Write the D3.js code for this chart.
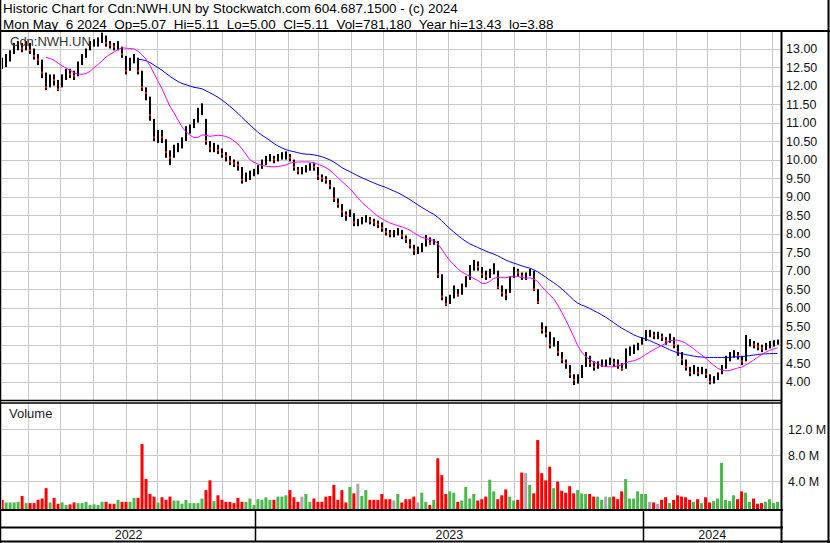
<!DOCTYPE html>
<html><head><meta charset="utf-8">
<script src="https://cdn.jsdelivr.net/npm/d3@7"></script>
<style>
body{margin:0;background:#fff}
svg{display:block;font-family:"Liberation Sans",Arial,sans-serif}
.t{font-size:13.45px;white-space:pre}
</style>
</head><body>
<svg id="c" width="830" height="543"></svg>
<script>
// ---- data (~every 3.8 calendar days) ----
const closes=[12.55,12.7,12.85,13.05,13.1,13.0,13.1,12.95,12.8,12.7,
12.35,11.95,12.2,12.15,11.9,12.2,12.35,12.3,12.25,12.55,
12.75,12.9,13.1,13.15,13.2,13.35,13.15,13.1,13.05,13.1,
12.85,12.4,12.65,12.75,12.4,11.95,11.8,11.2,10.6,10.65,
10.6,10.2,10.05,10.3,10.35,10.5,10.8,10.85,11.0,11.3,
11.4,10.5,10.3,10.35,10.25,10.15,10.1,9.95,9.9,9.85,
9.45,9.55,9.6,9.65,9.75,9.9,10.0,10.05,10.0,10.05,
10.1,10.15,10.05,9.8,9.7,9.7,9.75,9.85,9.8,9.55,
9.5,9.45,9.3,8.95,8.8,8.6,8.5,8.55,8.3,8.3,
8.35,8.4,8.35,8.3,8.25,8.15,8.05,8.0,8.0,8.1,
7.95,7.85,7.7,7.55,7.55,7.65,7.9,7.75,7.8,6.9,
6.3,6.1,6.25,6.5,6.35,6.55,6.75,7.05,7.15,7.1,
6.9,6.85,6.95,7.1,6.55,6.4,6.35,6.8,7.0,6.95,
6.85,6.85,7.0,6.5,6.15,5.4,5.3,5.0,5.1,4.8,
4.6,4.5,4.2,4.05,4.1,4.4,4.7,4.5,4.4,4.45,
4.5,4.5,4.55,4.5,4.45,4.35,4.8,4.85,4.9,5.0,
5.1,5.3,5.3,5.25,5.25,5.2,5.1,5.2,5.0,4.8,
4.6,4.4,4.25,4.35,4.25,4.3,4.2,4.0,4.05,4.2,
4.35,4.6,4.7,4.75,4.7,4.55,5.0,5.05,5.0,4.95,
4.9,4.95,5.0,5.05,5.11];
const highs=[12.75,12.85,12.95,13.15,13.2,13.15,13.2,13.15,13.0,12.85,
12.7,12.35,12.3,12.3,12.15,12.3,12.45,12.45,12.4,12.65,
12.85,13.0,13.2,13.25,13.3,13.43,13.35,13.2,13.15,13.2,
13.05,12.8,12.75,12.85,12.75,12.4,11.95,11.7,11.1,10.8,
10.8,10.55,10.25,10.4,10.45,10.6,10.9,10.95,11.1,11.4,
11.52,11.1,10.5,10.45,10.4,10.3,10.2,10.1,10.0,9.95,
9.8,9.65,9.7,9.75,9.85,10.0,10.1,10.15,10.1,10.15,
10.2,10.22,10.15,10.0,9.8,9.8,9.85,9.9,9.9,9.8,
9.6,9.55,9.45,9.25,8.95,8.8,8.6,8.65,8.55,8.4,
8.45,8.5,8.45,8.4,8.35,8.3,8.15,8.1,8.1,8.15,
8.1,7.95,7.85,7.7,7.65,7.75,7.96,7.9,7.85,7.8,
6.9,6.3,6.35,6.6,6.5,6.65,6.85,7.15,7.29,7.25,
7.1,7.0,7.05,7.2,7.0,6.6,6.5,6.85,7.1,7.05,
6.95,6.95,7.05,7.0,6.5,5.6,5.5,5.35,5.2,5.1,
4.8,4.6,4.45,4.2,4.2,4.45,4.8,4.7,4.55,4.55,
4.6,4.6,4.65,4.62,4.6,4.5,4.9,4.95,5.0,5.05,
5.2,5.4,5.4,5.35,5.35,5.3,5.2,5.3,5.2,5.0,
4.8,4.6,4.4,4.45,4.4,4.4,4.35,4.2,4.15,4.25,
4.45,4.7,4.8,4.85,4.8,4.7,5.26,5.15,5.1,5.05,
5.0,5.05,5.1,5.12,5.11];
const lows=[12.45,12.5,12.65,12.85,12.95,12.9,12.95,12.85,12.7,12.55,
12.2,11.88,11.95,12.0,11.85,11.95,12.15,12.2,12.15,12.25,
12.55,12.75,12.95,13.05,13.05,13.15,13.05,13.0,12.95,12.95,
12.75,12.3,12.4,12.6,12.3,11.85,11.6,11.05,10.5,10.45,
10.45,10.05,9.85,10.05,10.2,10.3,10.5,10.7,10.85,11.0,
11.2,10.4,10.2,10.2,10.15,10.05,9.95,9.85,9.8,9.7,
9.35,9.4,9.45,9.55,9.6,9.75,9.85,9.95,9.9,9.95,
10.0,10.0,9.95,9.7,9.6,9.6,9.65,9.7,9.7,9.45,
9.4,9.35,9.2,8.85,8.7,8.45,8.35,8.45,8.2,8.2,
8.25,8.3,8.25,8.2,8.15,8.05,7.95,7.9,7.9,7.95,
7.85,7.75,7.6,7.42,7.45,7.5,7.65,7.7,7.7,6.8,
6.2,6.05,6.1,6.25,6.3,6.35,6.55,6.75,7.0,7.0,
6.8,6.75,6.8,6.9,6.5,6.3,6.2,6.4,6.8,6.85,
6.75,6.75,6.85,6.45,6.1,5.3,5.2,4.9,4.95,4.7,
4.5,4.35,4.1,3.91,3.95,4.1,4.4,4.4,4.3,4.35,
4.4,4.4,4.45,4.4,4.35,4.3,4.35,4.7,4.75,4.85,
5.0,5.1,5.2,5.15,5.15,5.1,5.0,5.05,4.9,4.7,
4.45,4.3,4.15,4.2,4.15,4.2,4.1,3.93,3.95,4.05,
4.2,4.35,4.55,4.65,4.6,4.45,4.55,4.95,4.9,4.85,
4.8,4.85,4.9,4.95,5.0];
// volume in millions of units
const volumes=[1.1,0.7,0.7,0.7,0.8,1.7,0.6,0.6,0.6,1.1,
1.3,2.9,0.7,1.4,0.5,0.7,0.3,0.4,0.7,0.6,
0.6,0.8,0.3,0.4,0.3,0.8,0.8,0.5,0.5,1.1,
0.8,0.8,0.8,1.4,1.4,9.7,4.3,2.0,1.6,0.7,
1.5,1.1,1.6,1.0,1.0,0.5,1.1,0.6,0.6,0.6,
1.3,2.6,4.1,0.9,1.8,1.1,0.8,0.8,0.6,1.4,
0.8,0.8,1.3,0.3,1.2,1.1,1.5,1.1,1.1,1.6,
1.6,1.8,2.6,1.5,0.8,1.6,2.0,0.8,1.3,0.8,
0.8,1.6,1.7,3.4,1.1,2.6,0.7,3.1,2.1,3.6,
1.7,2.6,1.1,1.1,1.1,2.0,1.2,1.2,1.0,2.0,
0.7,1.2,1.2,1.6,0.7,2.2,0.8,0.3,1.1,7.5,
4.9,2.0,2.4,2.2,0.8,1.0,3.1,1.3,2.0,1.0,
1.2,1.6,4.2,2.4,1.2,1.8,2.7,1.6,1.0,1.1,
5.3,5.2,3.4,2.1,10.3,5.2,4.1,6.2,2.9,3.9,
2.5,2.2,3.2,2.1,2.6,2.1,2.0,2.0,1.6,1.6,
1.1,1.6,1.5,1.6,1.2,2.4,4.3,1.3,1.3,2.4,
2.0,2.0,0.8,0.7,0.5,1.1,1.5,0.6,1.1,1.8,
1.6,1.5,1.1,0.8,1.2,0.6,1.5,0.7,0.9,1.3,
6.8,1.1,0.9,1.8,1.2,2.4,2.2,0.8,1.3,0.5,
0.6,0.8,1.2,0.6,0.8];
const priceTicks=[4,4.5,5,5.5,6,6.5,7,7.5,8,8.5,9,9.5,10,10.5,11,11.5,12,12.5,13];
const volTicks=[4,8,12];
const years=[2022,2023,2024];
const firstDate=new Date(2022,4,8), lastDate=new Date(2024,4,6);
const domainStart=new Date(2022,4,6), domainEnd=new Date(2024,4,6);
const title1="Historic Chart for Cdn:NWH.UN by Stockwatch.com 604.687.1500 - (c) 2024";
const title2="Mon May  6 2024  Op=5.07  Hi=5.11  Lo=5.00  Cl=5.11  Vol=781,180  Year hi=13.43  lo=3.88";
const symbol="Cdn:NWH.UN";
const maShort=12, maLong=35;

// ---- drawing ----
const svg=d3.select("#c");
const N=closes.length;
const dates=d3.range(N).map(i=>new Date(+firstDate+i*(lastDate-firstDate)/(N-1)));
const L=2, R=781;             // plot x-extent
const pTop=32, pBot=400, vTop=403, vBot=509;
const x=d3.scaleTime().domain([domainStart,domainEnd]).range([0,777.5]);
const yP=d3.scaleLinear().domain([4,13]).range([381.7,48.5]);
const yV=d3.scaleLinear().domain([0,16]).range([507,403]);
const grid="#c8c8c8";

svg.append("rect").attr("width",830).attr("height",543).attr("fill","#fff");
const defs=svg.append("defs");
defs.append("clipPath").attr("id","cp").append("rect").attr("x",L).attr("y",pTop).attr("width",R-L).attr("height",pBot-pTop);
defs.append("clipPath").attr("id","cv").append("rect").attr("x",L).attr("y",vTop).attr("width",R-L).attr("height",vBot-vTop);

// grids
const months=x.ticks(d3.timeMonth.every(1)).filter(d=>x(d)>L&&x(d)<R);
const gp=svg.append("g");
gp.selectAll("line.h").data(priceTicks).join("line")
  .attr("x1",L).attr("x2",R).attr("y1",d=>Math.round(yP(d))+0.5).attr("y2",d=>Math.round(yP(d))+0.5)
  .attr("stroke",grid).attr("stroke-width",1);
gp.selectAll("line.vh").data(volTicks).join("line")
  .attr("x1",L).attr("x2",R).attr("y1",d=>Math.round(yV(d))+0.5).attr("y2",d=>Math.round(yV(d))+0.5)
  .attr("stroke",grid).attr("stroke-width",1);
gp.selectAll("line.m").data(months).join("line")
  .attr("x1",d=>Math.round(x(d))+0.5).attr("x2",d=>Math.round(x(d))+0.5)
  .attr("y1",pTop).attr("y2",pBot).attr("stroke",grid);
gp.selectAll("line.mv").data(months).join("line")
  .attr("x1",d=>Math.round(x(d))+0.5).attr("x2",d=>Math.round(x(d))+0.5)
  .attr("y1",vTop).attr("y2",vBot).attr("stroke",grid);

// volume bars
const vg=svg.append("g").attr("clip-path","url(#cv)");
vg.selectAll("rect").data(volumes).join("rect")
  .attr("x",(d,i)=>x(dates[i])-1.5).attr("width",3)
  .attr("y",d=>yV(d)).attr("height",d=>vBot-yV(d))
  .attr("fill",(d,i)=>{ if(i===0) return "#ff0000"; const c=closes[i]-closes[i-1]; return c>0?"#4cb84c":(c<0?"#ff0000":"#a8a8a8");});

// price bars
const pg=svg.append("g").attr("clip-path","url(#cp)");
pg.selectAll("rect.bar").data(closes).join("rect")
  .attr("x",(d,i)=>Math.round(x(dates[i]))-1).attr("width",2)
  .attr("y",(d,i)=>yP(highs[i])).attr("height",(d,i)=>Math.max(1,yP(lows[i])-yP(highs[i])))
  .attr("fill","#000");
pg.selectAll("rect.cl").data(closes).join("rect")
  .attr("x",(d,i)=>Math.round(x(dates[i]))-1).attr("width",2)
  .attr("y",d=>yP(d)-1).attr("height",2)
  .attr("fill",(d,i)=>(i>0&&d<closes[i-1])?"#ff0000":"#000");

// moving averages
function ma(n){return closes.map((c,i)=>i<n-1?null:d3.mean(closes.slice(i-n+1,i+1)));}
const line=d3.line().defined(d=>d[1]!=null).x(d=>x(d[0])).y(d=>yP(d[1]));
pg.append("path").datum(ma(maLong).map((v,i)=>[dates[i],v])).attr("d",line)
  .attr("fill","none").attr("stroke","#0000ff").attr("stroke-width",1);
pg.append("path").datum(ma(maShort).map((v,i)=>[dates[i],v])).attr("d",line)
  .attr("fill","none").attr("stroke","#ff00ff").attr("stroke-width",1);

// labels in panels
svg.append("text").attr("x",10).attr("y",46).attr("font-size",13).attr("fill","#333").text(symbol);
svg.append("text").attr("x",9).attr("y",418).attr("font-size",13).attr("fill","#222").text("Volume");

// right axes
const ap=svg.append("g").attr("transform",`translate(${R+1},0)`)
  .call(d3.axisRight(yP).tickValues(priceTicks).tickFormat(d3.format(".2f")).tickSize(0).tickPadding(4));
const av=svg.append("g").attr("transform",`translate(${R+1},0)`)
  .call(d3.axisRight(yV).tickValues(volTicks).tickFormat(d=>d.toFixed(1)+" M").tickSize(0).tickPadding(6));
[ap,av].forEach(a=>{a.select(".domain").remove();a.selectAll("text").attr("font-size",12.5).attr("fill","#111").attr("font-family","Liberation Sans,Arial,sans-serif");});

// header text
svg.append("text").attr("class","t").attr("x",3).attr("y",13.4).attr("fill","#000").text(title1);
svg.append("text").attr("class","t").attr("x",3).attr("y",28.5).attr("fill","#000").text(title2);

// frame lines
const fr=svg.append("g").attr("stroke","#000").attr("fill","none");
function hl(y,x1,x2,w){fr.append("line").attr("x1",x1).attr("x2",x2).attr("y1",y).attr("y2",y).attr("stroke-width",w);}
function vl(xx,y1,y2,w){fr.append("line").attr("x1",xx).attr("x2",xx).attr("y1",y1).attr("y2",y2).attr("stroke-width",w);}
vl(0.5,0,543,1.5);
vl(828.5,0,543,2);
hl(31,0,830,2);
hl(400.5,0,R,1.5);
hl(403,0,R,1.5);
hl(510,0,R+2,2);
hl(527.5,0,R+2,2);
hl(541.5,0,830,2);
vl(R+0.5,31,543,2);

// year labels and dividers
const yb=years.map(y=>({y, a:Math.max(L,x(new Date(y,0,1))), b:Math.min(R,x(new Date(y+1,0,1)))}));
yb.forEach(d=>{ if(d.a>L+1) vl(Math.round(d.a)+0.5,509,542,1.5); });
svg.append("g").selectAll("text").data(yb).join("text")
  .attr("x",d=>(d.a+d.b)/2).attr("y",539).attr("text-anchor","middle").attr("font-size",12.5).attr("fill","#111").text(d=>d.y);
</script>
</body></html>
